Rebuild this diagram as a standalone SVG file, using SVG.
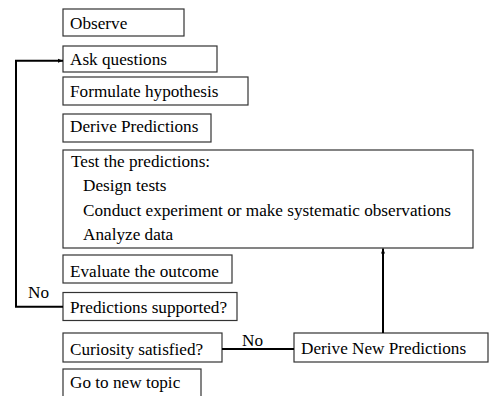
<svg xmlns="http://www.w3.org/2000/svg" width="489" height="396" viewBox="0 0 489 396">
<style>
.box{fill:#fff;stroke:#333;stroke-width:1.2}
.con{fill:none;stroke:#000;stroke-width:2}
text{font-family:"Liberation Serif","Times New Roman",serif;font-size:17.2px;fill:#000}
</style>
<defs>
<marker id="ah" viewBox="0 0 10 10" refX="10" refY="5" markerWidth="5" markerHeight="5" orient="auto" markerUnits="userSpaceOnUse">
<path d="M0,1 L10,5 L0,9 z" fill="#000"/>
</marker>
</defs>
<rect width="489" height="396" fill="#fff"/>
<g id="observe"><rect class="box" x="63" y="9" width="121" height="27"/><text x="70" y="29">Observe</text></g>
<g id="ask"><rect class="box" x="63" y="46" width="154" height="26"/><text x="70" y="65">Ask questions</text></g>
<g id="formulate"><rect class="box" x="63" y="77" width="185" height="28"/><text x="70" y="96.5">Formulate hypothesis</text></g>
<g id="derive"><rect class="box" x="63" y="114" width="148" height="28"/><text x="70" y="131.5">Derive Predictions</text></g>
<g id="test"><rect class="box" x="63" y="150" width="410" height="98"/>
<text x="71" y="166.5">Test the predictions:</text>
<text x="83" y="191">Design tests</text>
<text x="83" y="215.5">Conduct experiment or make systematic observations</text>
<text x="83" y="240">Analyze data</text></g>
<g id="evaluate"><rect class="box" x="63" y="255" width="169" height="28"/><text x="70" y="276.5">Evaluate the outcome</text></g>
<g id="supported"><rect class="box" x="63" y="292.5" width="174" height="28"/><text x="70" y="313">Predictions supported?</text></g>
<g id="curiosity"><rect class="box" x="63" y="333" width="159" height="29"/><text x="70" y="355">Curiosity satisfied?</text></g>
<g id="newpred"><rect class="box" x="294" y="333" width="194" height="29"/><text x="301" y="353.5">Derive New Predictions</text></g>
<g id="newtopic"><rect class="box" x="63" y="369" width="138" height="40"/><text x="70" y="388">Go to new topic</text></g>
<g id="connectors">
<path class="con" d="M63,306.7 H16 V60.7 H63" marker-end="url(#ah)"/>
<path class="con" d="M222,349 H294"/>
<path class="con" d="M383,333 V248.5" marker-end="url(#ah)"/>
<text x="28" y="298">No</text>
<text x="242" y="345.5">No</text>
</g>
</svg>
